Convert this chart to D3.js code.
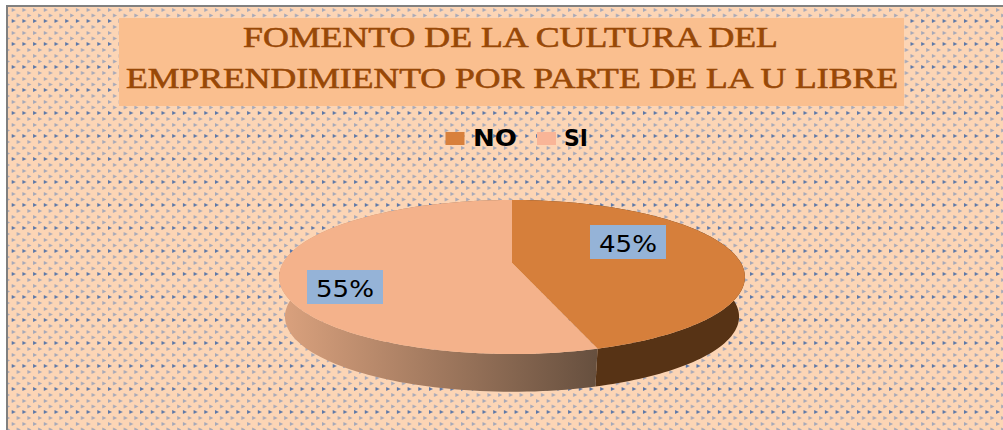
<!DOCTYPE html>
<html>
<head>
<meta charset="utf-8">
<script src="https://cdn.jsdelivr.net/npm/d3@7"></script>
<style>
  html, body { margin: 0; padding: 0; background: #fff; overflow: hidden; }
  svg { display: block; }
</style>
</head>
<body>
<div id="chart"></div>
<script>
const categories = ['NO', 'SI'];
const values = [45, 55];
const titleLines = ['FOMENTO DE LA CULTURA DEL', 'EMPRENDIMIENTO POR PARTE DE LA U LIBRE'];

const width = 1003, height = 430;

const svg = d3.select('#chart').append('svg')
    .attr('width', width)
    .attr('height', height);

const defs = svg.append('defs');

// Dotted background pattern
const tile = defs.append('pattern')
    .attr('id', 'dots')
    .attr('patternUnits', 'userSpaceOnUse')
    .attr('width', 10.7)
    .attr('height', 23);
tile.append('rect').attr('width', 10.7).attr('height', 23).attr('fill', '#fcd5b5');
const marks = [
    { x: 6, y: 2, c: '#a5a8b8' },
    { x: 1, y: 8, c: '#a5a8b8' },
    { x: 6, y: 13.5, c: '#a5a8b8' },
    { x: 1, y: 19, c: '#5d78a8' }
];
tile.selectAll('path')
    .data(marks)
    .join('path')
    .attr('d', d => `M${d.x},${d.y}l4,2l-4,2z`)
    .attr('fill', d => d.c);

// Frame and background
svg.append('rect')
    .attr('x', 7).attr('y', 6)
    .attr('width', width).attr('height', height)
    .attr('fill', 'url(#dots)')
    .attr('stroke', '#808080')
    .attr('stroke-width', 2);

// Title
svg.append('rect')
    .attr('x', 119).attr('y', 18)
    .attr('width', 785).attr('height', 88)
    .attr('fill', '#fabf8f');

const titleBox = [{ x: 243, w: 535, y: 47 }, { x: 126, w: 772, y: 88 }];
svg.selectAll('text.title')
    .data(titleLines)
    .join('text')
    .attr('class', 'title')
    .attr('x', (d, i) => titleBox[i].x)
    .attr('y', (d, i) => titleBox[i].y)
    .attr('textLength', (d, i) => titleBox[i].w)
    .attr('lengthAdjust', 'spacingAndGlyphs')
    .attr('font-family', '"Liberation Serif", serif')
    .attr('font-size', 29)
    .attr('fill', '#984807')
    .attr('stroke', '#984807')
    .attr('stroke-width', 0.6)
    .text(d => d);

// Colours
const color = d3.scaleOrdinal().domain(categories).range(['#d67f3b', '#f4b28b']);
const legendColor = d3.scaleOrdinal().domain(categories).range(['#d8803c', '#f9b597']);

// Legend
const legendBox = [{ sq: 445.5, tx: 473, tw: 44 }, { sq: 537, tx: 564, tw: 24 }];
const legend = svg.selectAll('g.legend')
    .data(categories)
    .join('g')
    .attr('class', 'legend');
legend.append('rect')
    .attr('x', (d, i) => legendBox[i].sq)
    .attr('y', 132)
    .attr('width', 19)
    .attr('height', 13)
    .attr('fill', d => legendColor(d));
legend.append('text')
    .attr('x', (d, i) => legendBox[i].tx)
    .attr('y', 146)
    .attr('textLength', (d, i) => legendBox[i].tw)
    .attr('lengthAdjust', 'spacingAndGlyphs')
    .attr('font-family', '"DejaVu Sans", sans-serif')
    .attr('font-weight', 'bold')
    .attr('font-size', 23)
    .attr('fill', '#000')
    .text(d => d);

// Pie, projected in perspective onto the tilted disc
const cx = 512, cy = 263;
const rx = 229, ry = 74.5, tilt = 0.1818;
const depth = 40, shrink = 0.975;

const project = (a, s = 1, dy = 0) => {
    const X = Math.sin(a), Y = -Math.cos(a);
    const w = 1 - tilt * Y;
    return [cx + s * rx * X / w, cy + dy + s * ry * Y / w];
};

const slices = d3.pie().sort(null).value(d => d)(values)
    .map((d, i) => ({ ...d, name: categories[i] }));

const line = d3.line();
const arcAngles = d => d3.range(0, 121).map(k => d.startAngle + (d.endAngle - d.startAngle) * k / 120);

const sideGrad = defs.append('linearGradient')
    .attr('id', 'sideSI')
    .attr('gradientUnits', 'userSpaceOnUse')
    .attr('x1', 280).attr('x2', 595)
    .attr('y1', 0).attr('y2', 0);
sideGrad.append('stop').attr('offset', '0%').attr('stop-color', '#dba27e');
sideGrad.append('stop').attr('offset', '100%').attr('stop-color', '#67503f');

// Side wall of the disc
svg.selectAll('path.side')
    .data(slices)
    .join('path')
    .attr('class', 'side')
    .attr('d', d => {
        const angles = arcAngles(d);
        const upper = angles.map(a => project(a));
        const lower = angles.slice().reverse().map(a => project(a, shrink, depth));
        return line(upper.concat(lower)) + 'Z';
    })
    .attr('fill', d => d.name === 'SI' ? 'url(#sideSI)' : '#573315');

// Top faces
svg.selectAll('path.top')
    .data(slices)
    .join('path')
    .attr('class', 'top')
    .attr('d', d => line([[cx, cy]].concat(arcAngles(d).map(a => project(a)))) + 'Z')
    .attr('fill', d => color(d.name));

// Data labels
const labelBox = [{ x: 590, y: 225 }, { x: 307, y: 270 }];
const labels = svg.selectAll('g.label')
    .data(slices)
    .join('g')
    .attr('class', 'label')
    .attr('transform', (d, i) => `translate(${labelBox[i].x},${labelBox[i].y})`);
labels.append('rect')
    .attr('width', 76)
    .attr('height', 34)
    .attr('fill', '#95b3d7');
labels.append('text')
    .attr('x', 9)
    .attr('y', 27)
    .attr('textLength', 58)
    .attr('lengthAdjust', 'spacingAndGlyphs')
    .attr('font-family', '"DejaVu Sans", sans-serif')
    .attr('font-size', 23)
    .attr('fill', '#000')
    .text(d => `${d.value}%`);
</script>
</body>
</html>
